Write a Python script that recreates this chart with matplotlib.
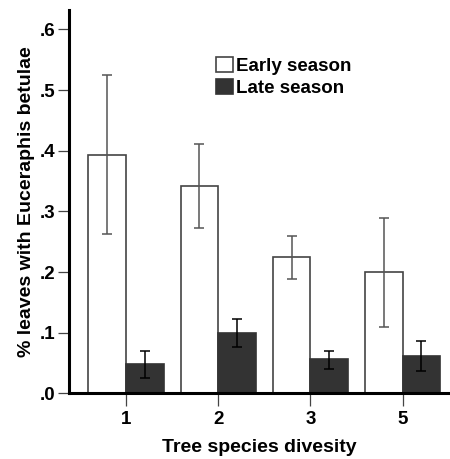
import numpy as np
import matplotlib.pyplot as plt

plt.rcParams['font.family'] = ['Liberation Sans', 'DejaVu Sans']
plt.rcParams['font.weight'] = 'bold'

# Tree species diversity levels and proportion of leaves with aphids
diversity = ['1', '2', '3', '5']
early = [0.393, 0.341, 0.225, 0.200]
early_lo = [0.262, 0.272, 0.189, 0.109]
early_hi = [0.525, 0.411, 0.260, 0.289]
late = [0.048, 0.100, 0.056, 0.062]
late_lo = [0.025, 0.076, 0.040, 0.037]
late_hi = [0.069, 0.122, 0.070, 0.087]

W, H = 450, 459
fig = plt.figure(figsize=(W / 100, H / 100), dpi=100)
ax = fig.add_axes([69 / W, (H - 393.3) / H, (W - 69) / W, (393.3 - 10) / H])

x = np.arange(len(diversity))
bw = 0.408

ax.bar(x - bw / 2, early, bw, color='white', edgecolor='#444444',
       linewidth=1.2, label='Early season', zorder=2)
ax.bar(x + bw / 2, late, bw, color='#333333', edgecolor='#333333',
       linewidth=1.2, label='Late season', zorder=2)

e = np.array(early)
l = np.array(late)
ax.errorbar(x - bw / 2, e, yerr=[e - np.array(early_lo), np.array(early_hi) - e],
            fmt='none', ecolor='#555555', elinewidth=1.1, capsize=3.4,
            capthick=1.1, zorder=3)
ax.errorbar(x + bw / 2, l, yerr=[l - np.array(late_lo), np.array(late_hi) - l],
            fmt='none', ecolor='black', elinewidth=1.1, capsize=3.4,
            capthick=1.1, zorder=3)

ax.set_xlim(-0.617, 3.513)
ax.set_ylim(0, 0.632)
ax.set_xticks(x)
ax.set_xticklabels(diversity)
yt = [0, 0.1, 0.2, 0.3, 0.4, 0.5, 0.6]
ax.set_yticks(yt)
ax.set_yticklabels(['.0', '.1', '.2', '.3', '.4', '.5', '.6'])

for s in ['top', 'right']:
    ax.spines[s].set_visible(False)
for s in ['left', 'bottom']:
    ax.spines[s].set_linewidth(2.2)
    ax.spines[s].set_color('black')

ax.tick_params(axis='both', labelsize=13.5, colors='#444444', labelcolor='black',
               width=0.9)
ax.tick_params(axis='y', length=8, pad=1.5)
ax.tick_params(axis='x', length=9, pad=3.5)

ax.set_xlabel('Tree species divesity', fontsize=14, fontweight='bold', labelpad=8)
ax.set_ylabel('% leaves with Euceraphis betulae', fontsize=14,
              fontweight='bold', labelpad=4)

ax.legend(loc='upper left', bbox_to_anchor=(216 / W, 1 - 57 / H),
          bbox_transform=fig.transFigure, frameon=False, fontsize=13.5,
          handlelength=0.89, handleheight=0.89, handletextpad=0.18,
          labelspacing=0.2, borderpad=0, borderaxespad=0)

fig.savefig('out.png', dpi=100)
